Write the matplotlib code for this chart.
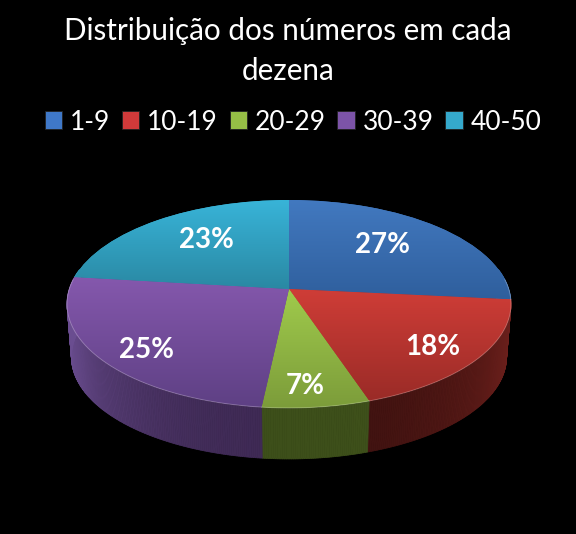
import numpy as np
import matplotlib
matplotlib.use("Agg")
import matplotlib.pyplot as plt
from matplotlib.collections import PolyCollection
from matplotlib.colors import LinearSegmentedColormap, to_rgb
from matplotlib.patches import Patch
from matplotlib.transforms import Transform

categories = ["1-9", "10-19", "20-29", "30-39", "40-50"]
values = [26.6, 18.3, 6.8, 25.2, 23.1]
title_lines = ["Distribuição dos números em cada", "dezena"]

top_light = ["#4279C0", "#CF3D37", "#A0CB4C", "#8558AD", "#38B4D8"]
top_dark = ["#2F5F9D", "#9A2B27", "#7C9C3A", "#5E4084", "#2A88A3"]
side_dark = ["#1F3F68", "#3F1210", "#3D4F1A", "#3F2A55", "#1C5A6C"]
side_light = ["#2F5F9D", "#6E201C", "#4D5E24", "#6A4D90", "#2A88A3"]
legend_colors = ["#3F78C8", "#D03A3A", "#96BE46", "#7C54A8", "#35A9CC"]
label_pos = [(382, 245), (433, 347), (305, 386), (146, 350), (206, 240)]

CX, CY, A, B, K = 289.0, 289.0, 101.8, 219.7, 0.144
DEPTH, SHRINK = 53.4, 0.98


def project(x, y):
    w = 1 + K * y
    return CX + B * x / w, CY - A * y / w


class Perspective(Transform):
    input_dims = 2
    output_dims = 2
    is_affine = False
    has_inverse = False

    def transform_non_affine(self, values):
        v = np.asarray(values, dtype=float)
        px, py = project(v[:, 0], v[:, 1])
        return np.column_stack([px, py])


plt.rcParams["font.family"] = ["Lato", "DejaVu Sans"]
fig = plt.figure(figsize=(5.76, 5.34), dpi=100, facecolor="black")
ax = fig.add_axes([0, 0, 1, 1], facecolor="black")

wedges, _, autotexts = ax.pie(
    values, colors=top_light, startangle=90, counterclock=False,
    autopct="%.0f%%", textprops=dict(color="white", fontweight="bold", fontsize=20),
)

persp = Perspective() + ax.transData
edges = np.cumsum([0] + values) / sum(values) * 360.0

verts, faces = [], []
for i, w in enumerate(wedges):
    a0, a1 = edges[i], edges[i + 1]
    th = np.radians(np.linspace(a0, a1, max(int(a1 - a0) * 2, 4) + 1))
    xs, ys = project(np.sin(th), np.cos(th))
    bx = CX + (xs - CX) * SHRINK
    by = CY + (ys - CY) * SHRINK + DEPTH

    # side wall
    dark, light = np.array(to_rgb(side_dark[i])), np.array(to_rgb(side_light[i]))
    for j in range(len(th) - 1):
        tm = 0.5 * (th[j] + th[j + 1])
        if np.cos(tm) > 0.2:
            continue
        f = np.abs(np.sin(tm)) ** 2.5
        verts.append([(xs[j], ys[j]), (xs[j + 1], ys[j + 1]), (bx[j + 1], by[j + 1]), (bx[j], by[j])])
        faces.append(dark + (light - dark) * f)

    # top surface with vertical gradient, clipped to the wedge
    w.set_transform(persp)
    w.set_zorder(2)
    w.set_linewidth(0)
    pts = np.vstack([np.column_stack([xs, ys]), [[CX, CY]]])
    cmap = LinearSegmentedColormap.from_list(f"g{i}", [top_light[i], top_dark[i]])
    im = ax.imshow(np.linspace(0, 1, 256)[:, None], cmap=cmap, aspect="auto", origin="upper",
                   extent=(pts[:, 0].min(), pts[:, 0].max(), pts[:, 1].max(), pts[:, 1].min()),
                   zorder=3)
    im.set_clip_path(w)

    # thin highlight on the front rim
    mask = np.cos(th) < 0.1
    if mask.sum() > 1:
        ax.plot(xs[mask], ys[mask], color="white", alpha=0.25, lw=0.7, zorder=4)

    autotexts[i].set_transform(ax.transData)
    autotexts[i].set_position(label_pos[i])
    autotexts[i].set_ha("center")
    autotexts[i].set_va("center")
    autotexts[i].set_zorder(6)

ax.add_collection(PolyCollection(verts, facecolors=faces, edgecolors="face", linewidths=0.5, zorder=1))

ax.set_xlim(0, 576)
ax.set_ylim(534, 0)
ax.set_aspect("auto")
ax.axis("off")

for line, y in zip(title_lines, (31, 71)):
    ax.text(288, y, line, color="white", fontsize=21.3, ha="center", va="center", zorder=6)

handles = [Patch(facecolor=c, edgecolor="#222222", linewidth=0.6) for c in legend_colors]
leg = ax.legend(handles, categories, ncol=5, loc="center", bbox_to_anchor=(293 / 576, 1 - 122 / 534),
                frameon=False, fontsize=19, labelcolor="white",
                handlelength=0.65, handleheight=0.65, handletextpad=0.3, columnspacing=0.45,
                borderpad=0, borderaxespad=0)

fig.savefig("out.png", dpi=100, facecolor="black")
